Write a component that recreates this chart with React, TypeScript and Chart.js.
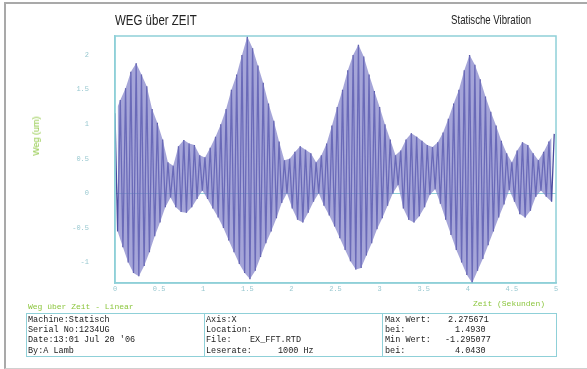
import React, { useEffect, useRef } from "react";
import { Chart, registerables } from "chart.js";

Chart.register(...registerables);

// Sampling step between successive extrema of the displayed waveform (seconds)
const DT = 0.03;

// Positive extrema (µm), one per oscillation cycle
const PEAKS = [
  1.16, 1.35, 1.52, 1.76, 1.88, 1.72, 1.55, 1.22, 1.02, 0.78,
  0.45, 0.40, 0.68, 0.77, 0.72, 0.70, 0.55, 0.52, 0.66, 0.82,
  1.00, 1.22, 1.50, 1.72, 2.00, 2.27, 2.10, 1.85, 1.60, 1.30,
  1.05, 0.75, 0.48, 0.50, 0.60, 0.68, 0.63, 0.58, 0.45, 0.55,
  0.72, 0.98, 1.25, 1.50, 1.78, 2.00, 2.15, 1.98, 1.72, 1.48,
  1.25, 1.00, 0.78, 0.55, 0.62, 0.78, 0.87, 0.82, 0.76, 0.70,
  0.67, 0.74, 0.88, 1.08, 1.30, 1.50, 1.78, 2.00, 1.86, 1.65,
  1.40, 1.18, 0.98, 0.76, 0.58, 0.45, 0.62, 0.74, 0.70, 0.58,
  0.48, 0.60, 0.75, 0.86,
];

// Negative extrema (µm), between the peaks
const TROUGHS = [
  -0.55, -0.78, -1.0, -1.15, -1.2, -1.05, -0.85, -0.62, -0.42, -0.2,
  -0.06, -0.2, -0.27, -0.28, -0.2, -0.08, 0.04, -0.08, -0.22, -0.35,
  -0.5, -0.68, -0.85, -1.02, -1.15, -1.24, -1.12, -0.92, -0.72, -0.55,
  -0.36, -0.14, 0.0, -0.22, -0.38, -0.42, -0.28, -0.12, 0.0, -0.18,
  -0.32, -0.48, -0.65, -0.82, -0.98, -1.1, -1.08, -0.9, -0.72, -0.52,
  -0.36, -0.18, 0.0, 0.12, -0.22, -0.38, -0.42, -0.33, -0.2, -0.02,
  0.06, -0.15, -0.38, -0.6, -0.82, -1.0, -1.18, -1.296, -1.12, -0.95,
  -0.75, -0.55, -0.35, -0.16, 0.05, -0.12, -0.3, -0.35, -0.25, -0.05,
  0.04, -0.05, -0.12,
];

const X_TICKS = [0, 0.5, 1, 1.5, 2, 2.5, 3, 3.5, 4, 4.5, 5];
const Y_TICKS = [-1, -0.5, 0, 0.5, 1, 1.5, 2];
const Y_MIN = -1.296077;
const Y_MAX = 2.275671;
const X_MIN = 0;
const X_MAX = 5;

const INFO_COL1 = ["Machine:Statisch", "Serial No:1234UG", "Date:13:01 Jul 20 '06", "By:A Lamb"];
const INFO_COL2_LABELS = ["Axis:X", "Location:", "File:", "Leserate:"];
const INFO_COL2_VALUES = ["", "", "EX_FFT.RTD", "1000 Hz"];
const INFO_COL3_LABELS = ["Max Wert:", "bei:", "Min Wert:", "bei:"];
const INFO_COL3_VALUES = ["2.275671", "1.4930", "-1.295077", "4.0430"];

const CYAN = "#8fd0d8";
const TICK_COLOR = "#98c8d0";
const GREEN = "#8cc63e";

const boxPlugin = {
  id: "plotBox",
  afterDraw(chart: any) {
    const { ctx, chartArea } = chart;
    ctx.save();
    ctx.strokeStyle = CYAN;
    ctx.lineWidth = 1.5;
    ctx.strokeRect(chartArea.left, chartArea.top, chartArea.right - chartArea.left, chartArea.bottom - chartArea.top);
    ctx.restore();
  },
};

export default function App() {
  const ref = useRef<HTMLCanvasElement | null>(null);

  useEffect(() => {
    const pts: { x: number; y: number }[] = [];
    for (let k = 0; k < PEAKS.length; k++) {
      pts.push({ x: 2 * k * DT, y: PEAKS[k] });
      if (k < TROUGHS.length) pts.push({ x: (2 * k + 1) * DT, y: TROUGHS[k] });
    }
    const upper = PEAKS.map((v, k) => ({ x: 2 * k * DT, y: v }));
    const lower = TROUGHS.map((v, k) => ({ x: (2 * k + 1) * DT, y: v }));
    const chart = new Chart(ref.current as HTMLCanvasElement, {
      type: "line",
      data: {
        datasets: [
          {
            data: upper,
            borderWidth: 0,
            borderColor: "rgba(0,0,0,0)",
            pointRadius: 0,
            tension: 0,
            fill: false,
          },
          {
            data: lower,
            borderWidth: 0,
            borderColor: "rgba(0,0,0,0)",
            backgroundColor: "rgba(122,122,198,0.68)",
            pointRadius: 0,
            tension: 0,
            fill: "-1",
          },
          {
            data: pts,
            borderColor: "rgba(58,58,150,0.92)",
            borderWidth: 1.3,
            pointRadius: 0,
            tension: 0,
            fill: false,
          },
        ],
      },
      options: {
        animation: false,
        responsive: false,
        devicePixelRatio: 1,
        layout: { padding: { top: 36, right: 31, left: 0, bottom: 0 } },
        plugins: { legend: { display: false }, tooltip: { enabled: false }, title: { display: false } },
        scales: {
          x: {
            type: "linear",
            min: X_MIN,
            max: X_MAX,
            afterBuildTicks: (s: any) => {
              s.ticks = X_TICKS.map((v) => ({ value: v }));
            },
            afterFit: (s: any) => {
              s.height = 86;
            },
            grid: { display: false, drawTicks: false },
            border: { color: CYAN, width: 1.5 },
            ticks: {
              color: TICK_COLOR,
              font: { family: "Liberation Mono", size: 7 },
              padding: 2,
              maxRotation: 0,
              callback: (v: any) => String(v),
            },
          },
          y: {
            type: "linear",
            min: Y_MIN,
            max: Y_MAX,
            afterBuildTicks: (s: any) => {
              s.ticks = Y_TICKS.map((v) => ({ value: v }));
            },
            afterFit: (s: any) => {
              s.width = 115;
            },
            grid: {
              drawTicks: false,
              color: (c: any) => (c.tick && c.tick.value === 0 ? CYAN : "rgba(0,0,0,0)"),
            },
            border: { color: CYAN, width: 1.5 },
            ticks: {
              color: TICK_COLOR,
              font: { family: "Liberation Mono", size: 7 },
              padding: 26,
              callback: (v: any) => String(v),
            },
          },
        },
      },
      plugins: [boxPlugin],
    });
    return () => chart.destroy();
  }, []);

  const mono: React.CSSProperties = {
    position: "absolute",
    fontFamily: "'Liberation Mono', 'DejaVu Sans Mono', monospace",
    fontSize: "8.5px",
    color: "#222",
    whiteSpace: "pre",
    lineHeight: "10px",
  };
  const rowsY = [315, 324.5, 335, 345.5];

  return (
    <div style={{ position: "absolute", left: 0, top: 0, width: 587, height: 369, background: "#fff", overflow: "hidden" }}>
      <div
        style={{
          position: "absolute",
          left: 4,
          top: 2,
          width: 583,
          height: 364,
          borderTop: "2px solid #a9a9a9",
          borderLeft: "2px solid #a9a9a9",
          borderBottom: "1px solid #d0d0d0",
        }}
      />
      <canvas ref={ref} width={587} height={369} style={{ position: "absolute", left: 0, top: 0, display: "block" }} />
      <div
        style={{
          position: "absolute",
          left: 115,
          top: 12,
          fontFamily: "'Liberation Sans', Arial, sans-serif",
          fontSize: "14px",
          color: "#222",
          whiteSpace: "nowrap",
          lineHeight: "16px",
          transform: "scaleX(0.82)",
          transformOrigin: "left center",
        }}
      >
        WEG über ZEIT
      </div>
      <div
        style={{
          position: "absolute",
          right: 56,
          top: 12,
          fontFamily: "'Liberation Sans', Arial, sans-serif",
          fontSize: "13px",
          color: "#222",
          whiteSpace: "nowrap",
          lineHeight: "16px",
          transform: "scaleX(0.74)",
          transformOrigin: "right center",
        }}
      >
        Statische Vibration
      </div>
      <div
        style={{
          position: "absolute",
          left: 36,
          top: 136,
          transform: "translate(-50%, -50%) rotate(-90deg)",
          fontFamily: "'Liberation Sans', Arial, sans-serif",
          fontSize: "9px",
          color: GREEN,
          whiteSpace: "nowrap",
        }}
      >
        Weg (um)
      </div>
      <div style={{ ...mono, left: 473, top: 299, color: GREEN, fontSize: "8px" }}>Zeit (Sekunden)</div>
      <div style={{ ...mono, left: 28, top: 302, color: GREEN, fontSize: "8px" }}>Weg über Zeit - Linear</div>
      <div
        style={{
          position: "absolute",
          left: 26,
          top: 313,
          width: 531,
          height: 44,
          border: `1.5px solid ${CYAN}`,
          boxSizing: "border-box",
        }}
      />
      <div style={{ position: "absolute", left: 204, top: 313, width: 0, height: 44, borderLeft: `1.5px solid ${CYAN}` }} />
      <div style={{ position: "absolute", left: 382, top: 313, width: 0, height: 44, borderLeft: `1.5px solid ${CYAN}` }} />
      {INFO_COL1.map((t, i) => (
        <div key={"c1" + i} style={{ ...mono, left: 28, top: rowsY[i] }}>
          {t}
        </div>
      ))}
      {INFO_COL2_LABELS.map((t, i) => (
        <div key={"c2l" + i} style={{ ...mono, left: 206, top: rowsY[i] }}>
          {t}
        </div>
      ))}
      {INFO_COL2_VALUES.map((t, i) => (
        <div key={"c2v" + i} style={{ ...mono, left: i === 2 ? 250 : 278, top: rowsY[i] }}>
          {t}
        </div>
      ))}
      {INFO_COL3_LABELS.map((t, i) => (
        <div key={"c3l" + i} style={{ ...mono, left: 385, top: rowsY[i] }}>
          {t}
        </div>
      ))}
      {INFO_COL3_VALUES.map((t, i) => (
        <div key={"c3v" + i} style={{ ...mono, left: t.length > 7 ? (t[0] === "-" ? 445 : 448) : 455, top: rowsY[i] }}>
          {t}
        </div>
      ))}
    </div>
  );
}
